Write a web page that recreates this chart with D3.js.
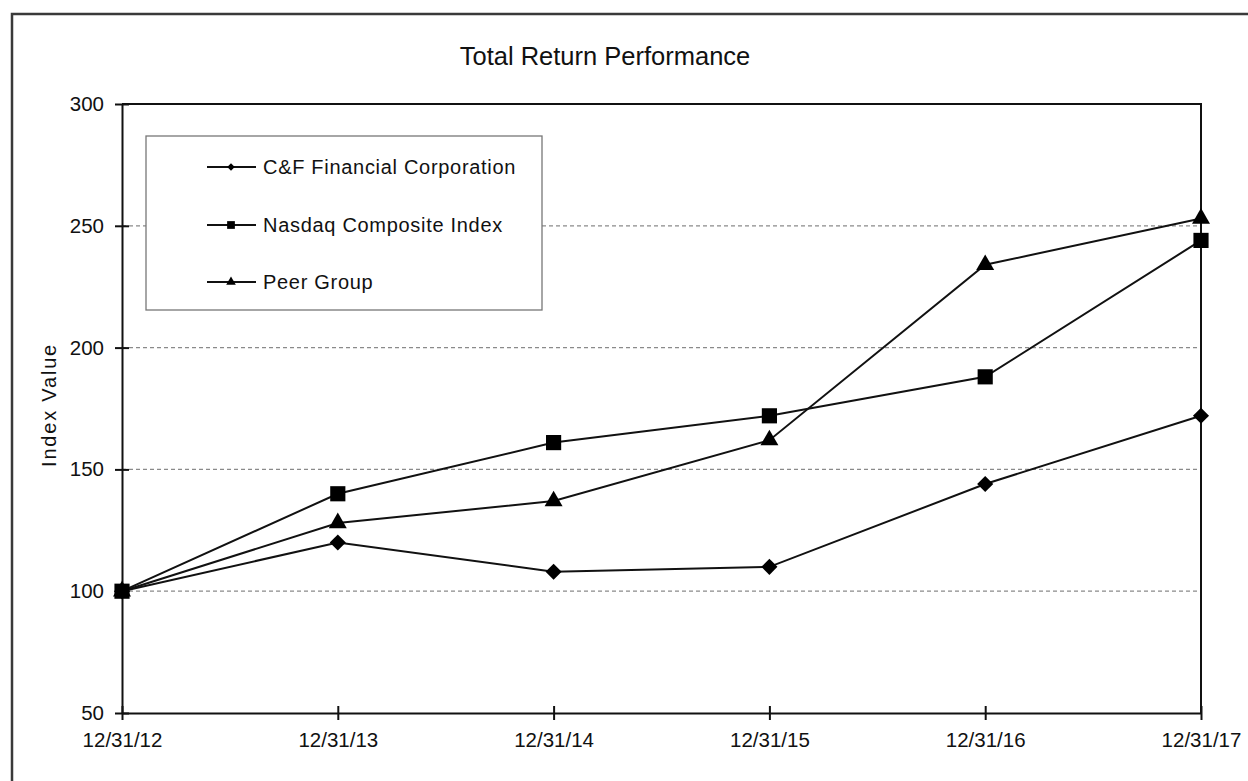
<!DOCTYPE html>
<html>
<head>
<meta charset="utf-8">
<script src="https://cdn.jsdelivr.net/npm/d3@7.9.0/dist/d3.min.js"></script>
<style>
  body { margin: 0; background: #fff; }
  svg { display: block; font-family: "Liberation Sans", Arial, sans-serif; }
</style>
</head>
<body>
<svg id="chart" width="1248" height="781"></svg>
<script>
const dates = ['12/31/12', '12/31/13', '12/31/14', '12/31/15', '12/31/16', '12/31/17'];
const cfValues = [100, 120, 108, 110, 144, 172];
const nasdaqValues = [100, 140, 161, 172, 188, 244];
const peerValues = [100, 128, 137, 162, 234, 253];
const yTicks = [50, 100, 150, 200, 250, 300];
const gridTicks = [100, 150, 200, 250];

// draw order: square series last so it sits on top at the start point
const series = [
  { name: 'C&F Financial Corporation', values: cfValues, symbol: d3.symbolDiamond2, size: 165, legendSize: 36 },
  { name: 'Peer Group', values: peerValues, symbol: d3.symbolTriangle, size: 140, legendSize: 40 },
  { name: 'Nasdaq Composite Index', values: nasdaqValues, symbol: d3.symbolSquare, size: 230, legendSize: 60 }
];
const legendOrder = ['C&F Financial Corporation', 'Nasdaq Composite Index', 'Peer Group'];

const svg = d3.select('#chart');

const plotLeft = 122, plotRight = 1201, plotTop = 104, plotBottom = 713;

const x = d3.scalePoint().domain(dates).range([plotLeft, plotRight]);
const y = d3.scaleLinear().domain([50, 300]).range([plotBottom, plotTop]);

// outer frame, runs off the right and bottom of the picture
svg.append('rect')
  .attr('x', 12).attr('y', 14)
  .attr('width', 1260).attr('height', 800)
  .attr('fill', 'none')
  .attr('stroke', '#3a3a3a')
  .attr('stroke-width', 2.5);

svg.append('text')
  .attr('x', 605).attr('y', 65)
  .attr('text-anchor', 'middle')
  .attr('font-size', 25.5)
  .attr('fill', '#111')
  .text('Total Return Performance');

// gridlines
svg.append('g')
  .selectAll('line')
  .data(gridTicks)
  .join('line')
  .attr('x1', plotLeft).attr('x2', plotRight)
  .attr('y1', d => y(d)).attr('y2', d => y(d))
  .attr('stroke', '#8a8a8a')
  .attr('stroke-width', 1.3)
  .attr('stroke-dasharray', '4,3');

// top and right frame of the plot
svg.append('path')
  .attr('d', `M${plotLeft},${plotTop}H${plotRight}V${plotBottom}`)
  .attr('fill', 'none')
  .attr('stroke', '#111')
  .attr('stroke-width', 2);

const yAxis = svg.append('g')
  .attr('transform', `translate(${plotLeft},0)`)
  .call(d3.axisLeft(y).tickValues(yTicks).tickSize(6).tickPadding(12).tickSizeOuter(0));
yAxis.selectAll('.tick line').attr('x2', 7).attr('x1', -7);

const xAxis = svg.append('g')
  .attr('transform', `translate(0,${plotBottom})`)
  .call(d3.axisBottom(x).tickSize(6).tickPadding(13).tickSizeOuter(0));
xAxis.selectAll('.tick line').attr('y1', -7).attr('y2', 7);

svg.selectAll('.domain').attr('stroke', '#111').attr('stroke-width', 2);
svg.selectAll('.tick line').attr('stroke', '#111').attr('stroke-width', 2);
svg.selectAll('.tick text')
  .attr('font-size', 20.5)
  .attr('font-family', '"Liberation Sans", Arial, sans-serif')
  .attr('fill', '#111');

svg.append('text')
  .attr('transform', 'translate(56,405) rotate(-90)')
  .attr('text-anchor', 'middle')
  .attr('font-size', 20)
  .attr('letter-spacing', 1.8)
  .attr('fill', '#111')
  .text('Index Value');

const line = d3.line()
  .x((d, i) => x(dates[i]))
  .y(d => y(d));

series.forEach(s => {
  svg.append('path')
    .datum(s.values)
    .attr('d', line)
    .attr('fill', 'none')
    .attr('stroke', '#111')
    .attr('stroke-width', 2);
});

series.forEach(s => {
  svg.append('g')
    .selectAll('path')
    .data(s.values)
    .join('path')
    .attr('transform', (d, i) => `translate(${x(dates[i])},${y(d)})`)
    .attr('d', d3.symbol().type(s.symbol).size(s.size))
    .attr('fill', '#000');
});

// legend
const legend = svg.append('g');
legend.append('rect')
  .attr('x', 146).attr('y', 136)
  .attr('width', 396).attr('height', 174)
  .attr('fill', '#fff')
  .attr('stroke', '#777')
  .attr('stroke-width', 1.3);

const rowY = [167, 225, 282];
legendOrder.forEach((name, i) => {
  const s = series.find(d => d.name === name);
  const g = legend.append('g').attr('transform', `translate(0,${rowY[i]})`);
  g.append('line')
    .attr('x1', 207).attr('x2', 256)
    .attr('stroke', '#111').attr('stroke-width', 2);
  g.append('path')
    .attr('transform', 'translate(231,0)')
    .attr('d', d3.symbol().type(s.symbol).size(s.legendSize))
    .attr('fill', '#000');
  g.append('text')
    .attr('x', 263).attr('y', 7)
    .attr('font-size', 20)
    .attr('letter-spacing', 0.7)
    .attr('fill', '#111')
    .text(name);
});
</script>
</body>
</html>
